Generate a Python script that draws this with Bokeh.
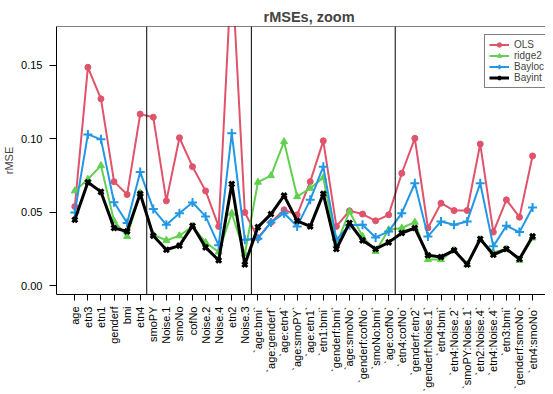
import math
from bokeh.plotting import figure
from bokeh.models import Range1d, FixedTicker, Span, Legend, LegendItem, NumeralTickFormatter
from bokeh.embed import file_html
from bokeh.resources import INLINE

cats = ["age", "etn3", "etn1", "genderf", "bmi", "etn4", "smoPY", "Noise.1", "smoNo", "cofNo",
        "Noise.2", "Noise.4", "etn2", "Noise.3",
        "`age:bmi`", "`age:genderf`", "`age:etn4`", "`age:smoPY`", "`age:etn1`", "`etn1:bmi`",
        "`genderf:bmi`", "`age:smoNo`", "`genderf:cofNo`", "`smoNo:bmi`", "`age:cofNo`",
        "`etn4:cofNo`", "`genderf:etn2`", "`genderf:Noise.1`", "`etn4:bmi`", "`etn4:Noise.2`",
        "`smoPY:Noise.1`", "`etn2:Noise.4`", "`etn4:Noise.4`", "`etn3:bmi`", "`genderf:smoNo`",
        "`etn4:smoNo`"]

OLS = [0.0538, 0.1487, 0.1272, 0.0708, 0.0620, 0.1168, 0.1147, 0.0577, 0.1007, 0.0810,
       0.0645, 0.0403, 0.218, 0.0498,
       0.0324, 0.0430, 0.0516, 0.0482, 0.0708, 0.0986, 0.0403, 0.0509, 0.0487, 0.0441, 0.0482,
       0.0765, 0.1003, 0.0392, 0.0561, 0.0511, 0.0511, 0.0964, 0.0364, 0.0584, 0.0466, 0.0883]
ridge2 = [0.0645, 0.0724, 0.0817, 0.0440, 0.0335, 0.0631, 0.0346, 0.0308, 0.0339, 0.0403,
          0.0294, 0.0229, 0.0493, 0.0215,
          0.0704, 0.0749, 0.0980, 0.0606, 0.0663, 0.0735, 0.0278, 0.0505, 0.0335, 0.0233, 0.0380,
          0.0392, 0.0432, 0.0177, 0.0177, 0.0240, 0.0143, 0.0312, 0.0226, 0.0249, 0.0172, 0.0324]
Bayloc = [0.0498, 0.1030, 0.0996, 0.0568, 0.0426, 0.0774, 0.0521, 0.0414, 0.0493, 0.0566,
          0.0471, 0.0274, 0.1037, 0.0312,
          0.0319, 0.0430, 0.0493, 0.0403, 0.0584, 0.0810, 0.0312, 0.0410, 0.0414, 0.0328, 0.0369,
          0.0493, 0.0697, 0.0335, 0.0437, 0.0414, 0.0437, 0.0697, 0.0267, 0.0407, 0.0364, 0.0532]
Bayint = [0.0448, 0.0704, 0.0638, 0.0392, 0.0369, 0.0625, 0.0339, 0.0244, 0.0272, 0.0407,
          0.0260, 0.0172, 0.0692, 0.0143,
          0.0398, 0.0487, 0.0613, 0.0441, 0.0403, 0.0625, 0.0249, 0.0426, 0.0308, 0.0249, 0.0294,
          0.0358, 0.0392, 0.0206, 0.0195, 0.0240, 0.0143, 0.0317, 0.0210, 0.0249, 0.0181, 0.0335]

separators = [6.5, 14.5, 25.5]
y_ticks = [0.0, 0.05, 0.10, 0.15]

FONT = "Liberation Sans"
x = list(range(1, len(cats) + 1))

p = figure(width=545, height=394, output_backend="svg", toolbar_location=None,
           x_range=Range1d(-0.4, 36.99), y_range=Range1d(-0.0061, 0.1765),
           min_border_left=51, min_border_right=0, min_border_top=26, min_border_bottom=99,
           title="rMSEs, zoom")
p.outline_line_color = None
p.grid.visible = False
p.background_fill_color = "white"

p.title.text_font = FONT
p.title.text_font_size = "14.5px"
p.title.text_font_style = "bold"
p.title.align = "left"
p.title.offset = 207
p.title.standoff = 3

# x axis
xa = p.xaxis[0]
xa.ticker = FixedTicker(ticks=x)
xa.major_label_overrides = {i: c for i, c in zip(x, cats)}
xa.major_label_orientation = math.pi / 2
xa.major_label_text_font = FONT
xa.major_label_text_font_size = "11px"
xa.major_label_text_color = "black"
xa.major_tick_out = 6
xa.major_tick_in = 0
xa.minor_tick_line_color = None
xa.major_label_standoff = 6
xa.axis_line_color = "black"

# y axis
ya = p.yaxis[0]
ya.ticker = FixedTicker(ticks=y_ticks)
ya.formatter = NumeralTickFormatter(format="0.00")
ya.major_label_text_font = FONT
ya.major_label_text_font_size = "11px"
ya.major_label_text_color = "black"
ya.major_tick_out = 7
ya.major_tick_in = 0
ya.minor_tick_line_color = None
ya.major_label_standoff = 7
ya.axis_label = "rMSE"
ya.axis_label_text_font = FONT
ya.axis_label_text_font_size = "11px"
ya.axis_label_text_font_style = "normal"
ya.axis_label_standoff = 3
ya.axis_line_color = "black"

# top frame line
p.add_layout(Span(location=0.1765, dimension="width", line_color="black", line_width=1))
for s in separators:
    p.add_layout(Span(location=s, dimension="height", line_color="black", line_width=1))

series = [
    ("OLS", OLS, "#DF536B", "circle", 6, 2),
    ("ridge2", ridge2, "#61D04F", "triangle", 7, 2),
    ("Bayloc", Bayloc, "#2297E6", "cross", 9, 2),
    ("Bayint", Bayint, "black", "x", 7, 3),
]
items = []
for name, ys, col, mk, sz, lw in series:
    l = p.line(x, ys, line_color=col, line_width=lw)
    if mk in ("cross", "x"):
        s = p.scatter(x, ys, marker=mk, size=sz, line_color=col, line_width=lw)
    else:
        s = p.scatter(x, ys, marker=mk, size=sz, fill_color=col, line_color=col)
    items.append(LegendItem(label=name, renderers=[l, s]))

legend = Legend(items=items, location=(428, 206))
legend.border_line_color = "black"
legend.border_line_width = 1
legend.background_fill_color = "white"
legend.background_fill_alpha = 1
legend.label_text_font = FONT
legend.label_text_font_size = "10px"
legend.glyph_width = 20
legend.glyph_height = 11
legend.label_height = 11
legend.label_standoff = 5
legend.spacing = 0
legend.padding = 4
legend.margin = 0
p.add_layout(legend)

open("out.html", "w").write(file_html(p, INLINE))
